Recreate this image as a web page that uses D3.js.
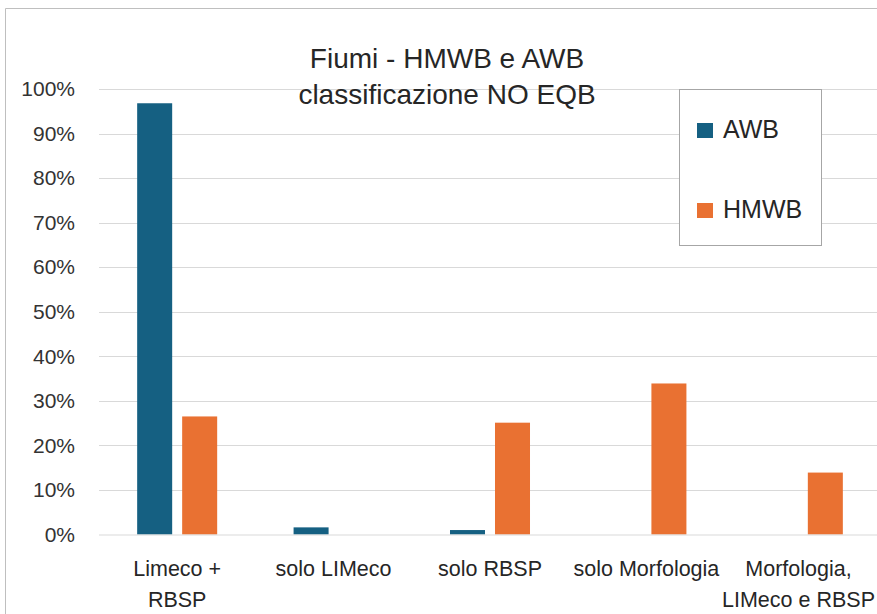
<!DOCTYPE html>
<html>
<head>
<meta charset="utf-8">
<script src="https://cdn.jsdelivr.net/npm/d3@7"></script>
<style>
  body { margin: 0; background: #fff; }
  svg { display: block; }
</style>
</head>
<body>
<svg id="chart" width="877" height="614"></svg>
<script>
const categories = [["Limeco +", "RBSP"], ["solo LIMeco"], ["solo RBSP"], ["solo Morfologia"], ["Morfologia,", "LIMeco e RBSP"]];
const seriesNames = ["AWB", "HMWB"];
const awbValues = [0.968, 0.016, 0.010, 0, 0];
const hmwbValues = [0.265, 0, 0.251, 0.339, 0.139];
const yTicks = [0, 0.1, 0.2, 0.3, 0.4, 0.5, 0.6, 0.7, 0.8, 0.9, 1];
const titleLines = ["Fiumi - HMWB e AWB", "classificazione NO EQB"];
const colors = ["#156082", "#E97132"];

const svg = d3.select("#chart");
const font = "Liberation Sans, Arial, sans-serif";
const catKeys = categories.map(c => c.join(" "));
const data = catKeys.map((k, i) => ({key: k, lines: categories[i], values: [awbValues[i], hmwbValues[i]]}));

const x0 = d3.scaleBand().domain(catKeys).range([99, 881]).paddingInner(0.4885).paddingOuter(0.244);
const x1 = d3.scaleBand().domain(seriesNames).range([0, x0.bandwidth()]).paddingInner(0.222);
const y = d3.scaleLinear().domain([0, 1]).range([534.5, 89]);
const color = d3.scaleOrdinal().domain(seriesNames).range(colors);

// chart frame
svg.append("path")
    .attr("d", "M5.5,614 V8.5 H877")
    .attr("fill", "none")
    .attr("stroke", "#bfbfbf");

// gridlines
svg.append("g")
    .selectAll("line")
    .data(yTicks.slice(1))
    .join("line")
        .attr("x1", 99)
        .attr("x2", 877)
        .attr("y1", d => Math.round(y(d)) + 0.5)
        .attr("y2", d => Math.round(y(d)) + 0.5)
        .attr("stroke", "#d9d9d9")
        .attr("stroke-width", 1);

// y axis labels
const yAxis = svg.append("g")
    .attr("transform", "translate(75,0)")
    .call(d3.axisLeft(y).tickValues(yTicks).tickFormat(d3.format(".0%")).tickSize(0).tickPadding(0));
yAxis.select(".domain").remove();
yAxis.selectAll("text")
    .attr("font-family", font)
    .attr("font-size", 21)
    .attr("fill", "#333333");

// bars
svg.append("g")
    .selectAll("g")
    .data(data)
    .join("g")
        .attr("transform", d => `translate(${x0(d.key)},0)`)
    .selectAll("rect")
    .data(d => seriesNames.map((s, i) => ({series: s, value: d.values[i]})))
    .join("rect")
        .attr("x", d => x1(d.series))
        .attr("y", d => y(d.value))
        .attr("width", x1.bandwidth())
        .attr("height", d => y(0) - y(d.value))
        .attr("fill", d => color(d.series));

// baseline
svg.append("line")
    .attr("x1", 99).attr("x2", 877)
    .attr("y1", 535).attr("y2", 535)
    .attr("stroke", "#d9d9d9");

// category labels (last one pushed left so it stays inside the frame)
const catLabels = svg.append("g")
    .selectAll("text")
    .data(data)
    .join("text")
        .attr("y", 576)
        .attr("text-anchor", "middle")
        .attr("font-family", font)
        .attr("font-size", 21.5)
        .attr("fill", "#262626");
catLabels.selectAll("tspan")
    .data(d => d.lines)
    .join("tspan")
        .attr("dy", (d, i) => i === 0 ? 0 : 31)
        .text(d => d);
catLabels.each(function(d) {
    const tspans = d3.select(this).selectAll("tspan");
    const w = d3.max(tspans.nodes(), n => n.getComputedTextLength());
    const cx = Math.min(x0(d.key) + x0.bandwidth() / 2, 875 - w / 2);
    tspans.attr("x", cx);
});

// title
svg.append("g")
    .selectAll("text")
    .data(titleLines)
    .join("text")
        .attr("x", 447)
        .attr("y", (d, i) => 68 + i * 36)
        .attr("text-anchor", "middle")
        .attr("font-family", font)
        .attr("font-size", 28)
        .attr("fill", "#262626")
        .text(d => d);

// legend
const legend = svg.append("g");
legend.append("rect")
    .attr("x", 679.5).attr("y", 89.5)
    .attr("width", 142).attr("height", 156)
    .attr("fill", "#fff")
    .attr("stroke", "#a6a6a6");
const items = legend.selectAll("g")
    .data(seriesNames)
    .join("g")
        .attr("transform", (d, i) => `translate(697,${123 + i * 80})`);
items.append("rect")
    .attr("width", 16).attr("height", 15)
    .attr("fill", d => color(d));
items.append("text")
    .attr("x", 26)
    .attr("y", 15)
    .attr("font-family", font)
    .attr("font-size", 25)
    .attr("fill", "#262626")
    .text(d => d);
</script>
</body>
</html>
